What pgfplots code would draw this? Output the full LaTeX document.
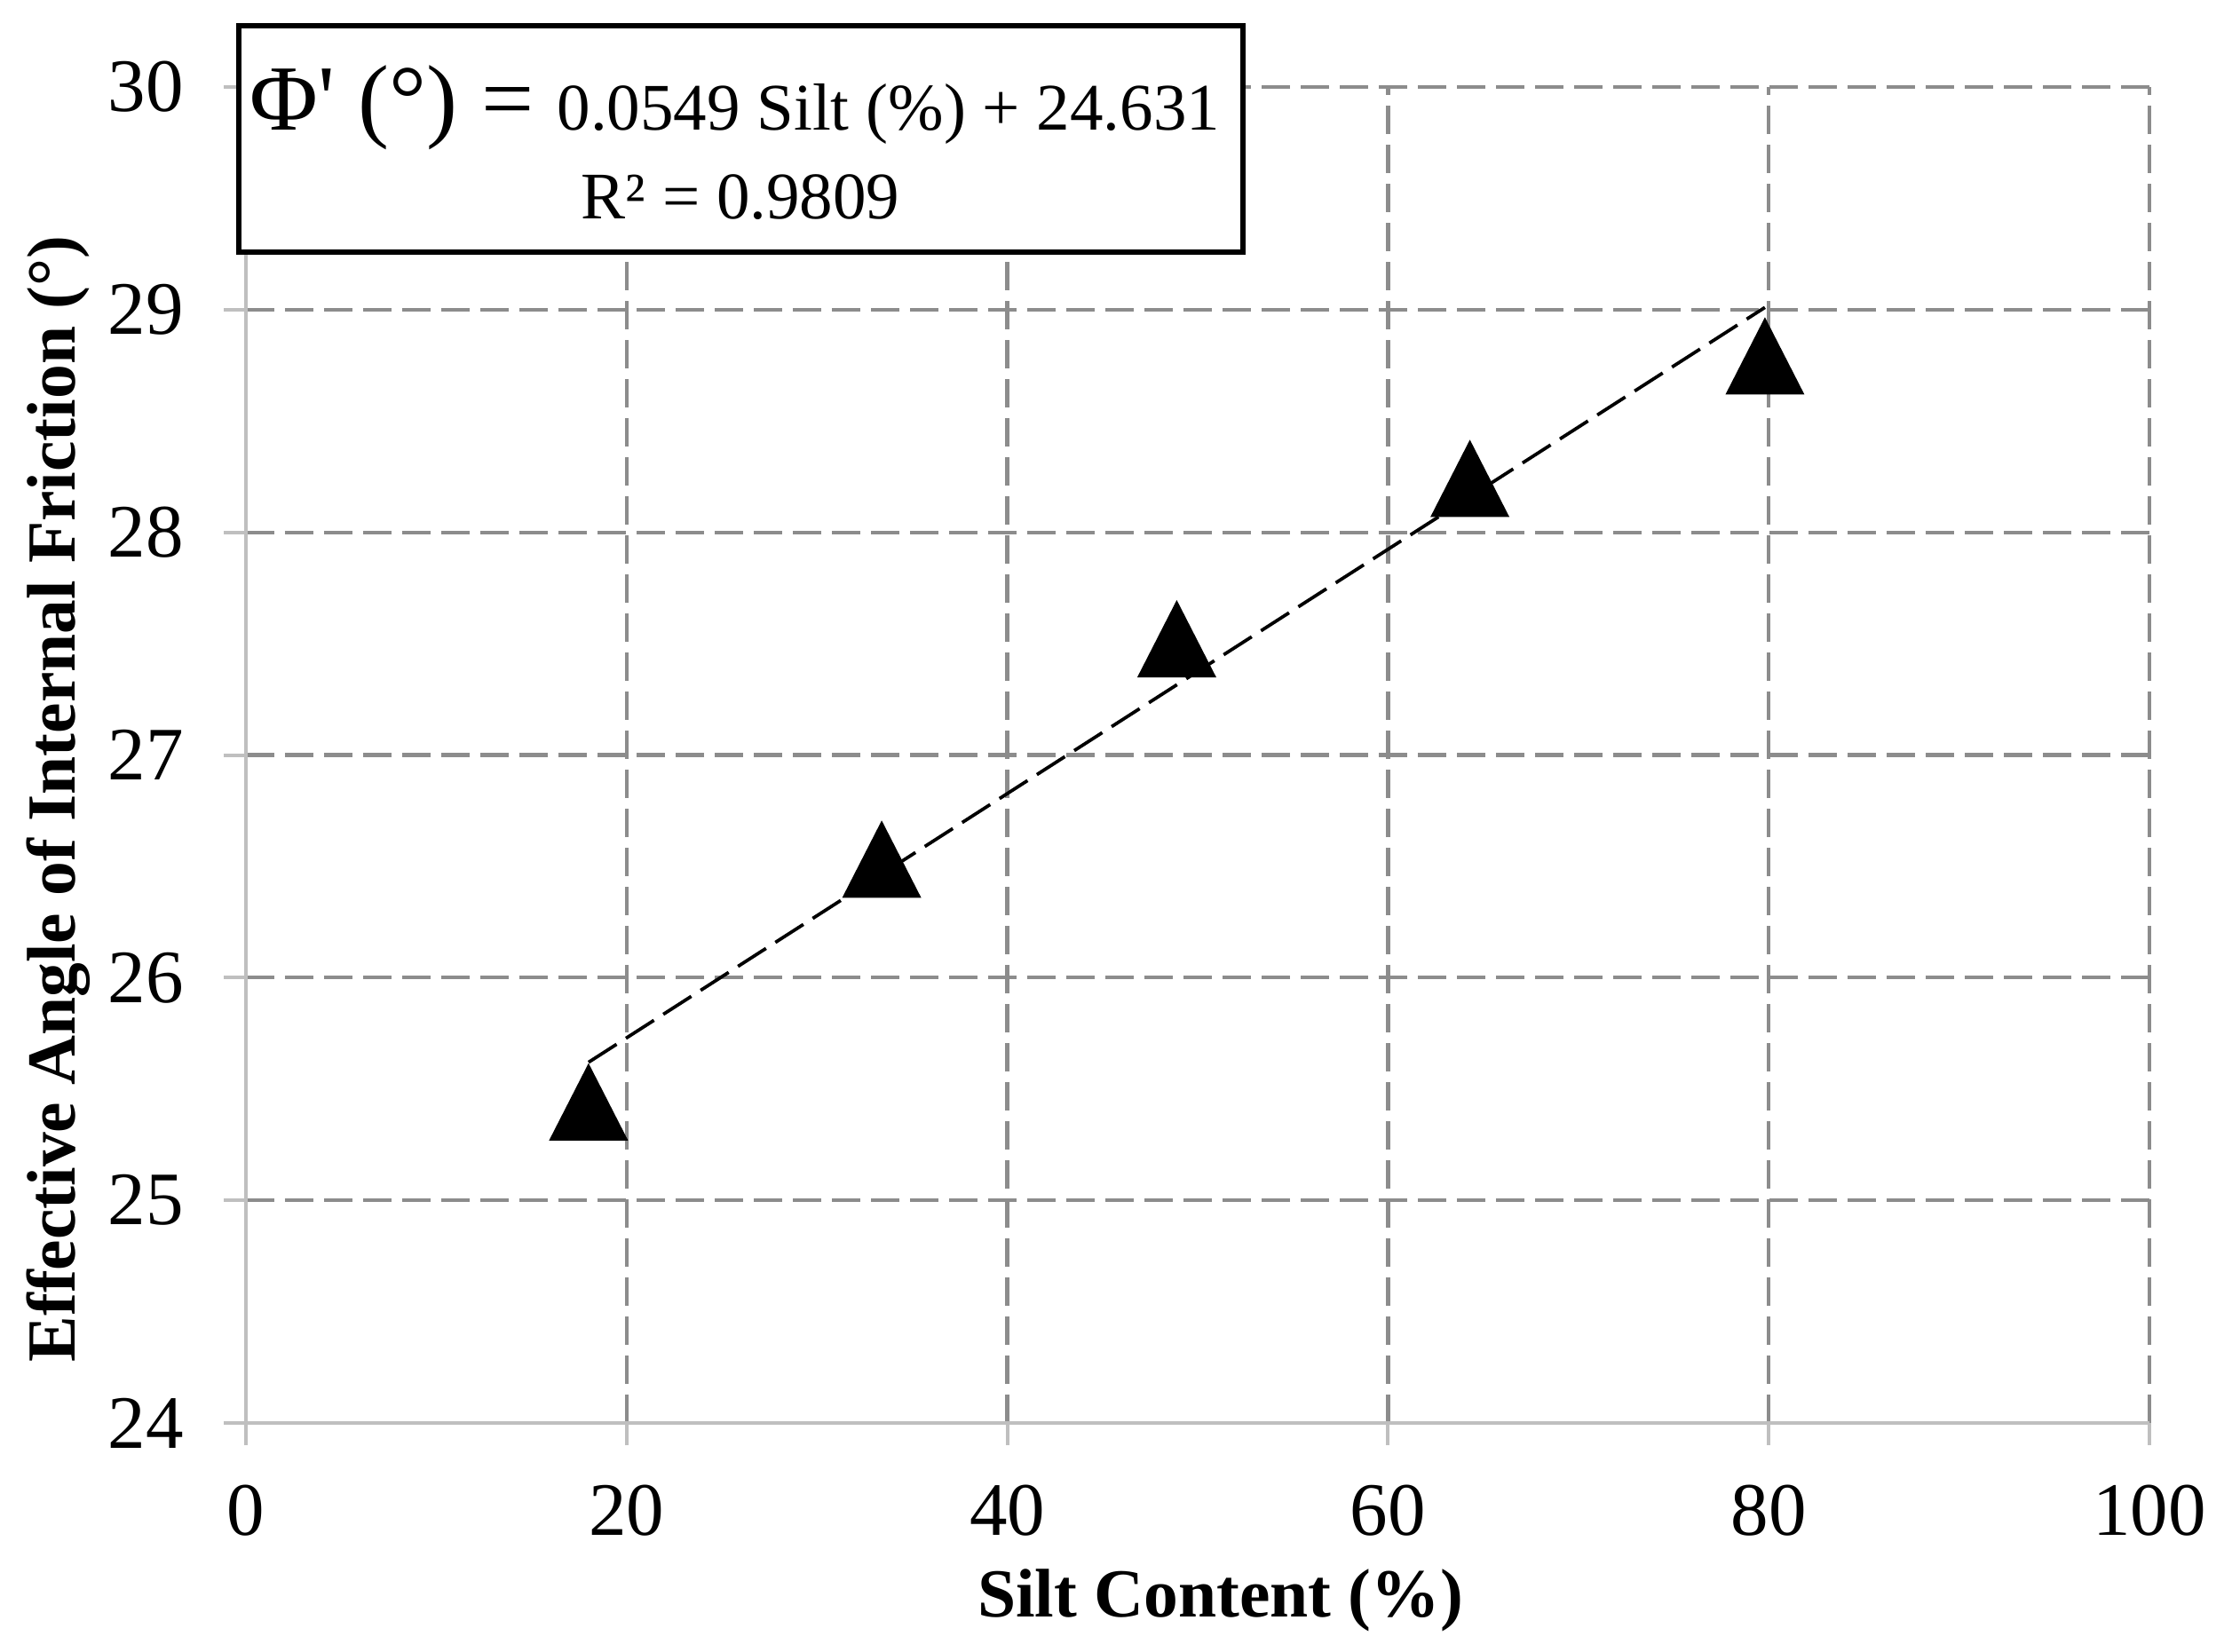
\documentclass[border=0pt]{standalone}
\usepackage{fontspec}
\setmainfont{Liberation Serif}
\newfontfamily\plainf{Liberation Serif}
\usepackage{pgfplots}
\pgfplotsset{compat=1.18}

\definecolor{gridgray}{HTML}{8C8C8C}
\definecolor{axisgray}{HTML}{BFBFBF}

\begin{document}
\begin{tikzpicture}
% page = reference proportions (1 px of the 2514 px image = 0.2pt)
\useasboundingbox (-55.4pt,-51.4pt) rectangle (447.4pt,320.6pt);
\begin{axis}[
    scale only axis,
    width=428.8pt, height=301pt,
    xmin=0, xmax=100, ymin=24, ymax=30,
    xtick={0,20,...,100},
    ytick={24,25,...,30},
    axis line style={draw=none},
    tick pos=left,
    tick align=outside,
    major tick length=5pt,
    tick style={draw=axisgray, line width=0.8pt},
    grid=major,
    major grid style={draw=gridgray, line width=0.85pt, dash pattern=on 6.4pt off 2.4pt},
    /pgf/number format/assume math mode=true,
    ticklabel style={font=\fontsize{17}{20}\selectfont},
    xticklabel style={yshift=-5.5pt},
    yticklabel style={xshift=-5.5pt},
    xlabel={\textbf{Silt Content (\%)}},
    ylabel={\textbf{Effective Angle of Internal Friction (°)}},
    label style={font=\fontsize{15.5}{18}\selectfont},
    xlabel style={at={(axis description cs:0.512,-0.133)}, anchor=center},
    ylabel style={at={(axis description cs:-0.0984,0.467)}, anchor=center},
    clip=false,
]
% solid gray axis lines (left and bottom only)
\draw[axisgray, line width=0.8pt] (rel axis cs:0,1) -- (rel axis cs:0,0) -- (rel axis cs:1,0);
% linear trend line
\addplot[black, line width=0.75pt, dash pattern=on 7.5pt off 2.5pt] coordinates {
    (18.0,25.62) (79.8,29.01)
};
% measured points
\addplot[only marks, mark=triangle*, mark size=9.9pt, fill=black, draw=black,
    mark options={yshift=-2.8pt, yscale=1.13}] coordinates {
    (18.0,25.44) (33.4,26.53) (48.9,27.52) (64.3,28.24) (79.8,28.79)
};
\coordinate (tl) at (rel axis cs:0,1);
\end{axis}
% equation box
\node[draw=black, line width=1.3pt, fill=white, minimum width=226.2pt,
    minimum height=51pt, inner sep=0pt] at ([xshift=111.5pt, yshift=-11.7pt]tl) {};
\node[anchor=base, inner sep=0pt, font=\fontsize{15}{18}\selectfont] at ([xshift=110.2pt, yshift=-9.8pt]tl)
    {{\fontsize{21}{24}\selectfont {\plainf Φ'} (°) = }0.0549 Silt (\%) + 24.631};
\node[anchor=base, inner sep=0pt, font=\fontsize{15}{18}\selectfont] at ([xshift=111.4pt, yshift=-29.8pt]tl)
    {R² = 0.9809};
\end{tikzpicture}
\end{document}
